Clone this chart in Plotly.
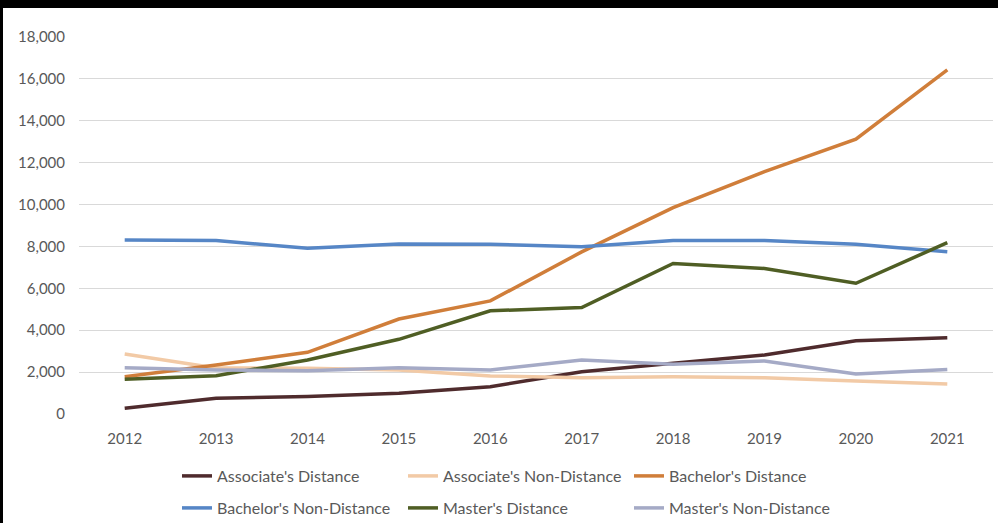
import plotly.graph_objects as go

years = ["2012", "2013", "2014", "2015", "2016", "2017", "2018", "2019", "2020", "2021"]

assoc_dist = [270, 750, 830, 990, 1300, 2020, 2420, 2820, 3500, 3645]
assoc_nondist = [2865, 2200, 2180, 2100, 1815, 1735, 1780, 1735, 1575, 1430]
bach_dist = [1780, 2340, 2945, 4535, 5400, 7740, 9850, 11570, 13120, 16430]
bach_nondist = [8310, 8280, 7910, 8120, 8100, 7990, 8280, 8280, 8100, 7750]
mast_dist = [1655, 1830, 2580, 3565, 4930, 5080, 7190, 6950, 6240, 8180]
mast_nondist = [2210, 2100, 2070, 2210, 2100, 2580, 2370, 2530, 1910, 2130]

series = [
    ("Associate's Distance", assoc_dist, "#4F2B2D", "legend"),
    ("Associate's Non-Distance", assoc_nondist, "#F2CAA6", "legend"),
    ("Bachelor's Distance", bach_dist, "#D07E3A", "legend"),
    ("Bachelor's Non-Distance", bach_nondist, "#5686C6", "legend2"),
    ("Master's Distance", mast_dist, "#4F5E24", "legend2"),
    ("Master's Non-Distance", mast_nondist, "#A5AAC6", "legend2"),
]

W, H = 998, 523
L, R, T, B = 79, 5, 37, 109
pw = W - L - R
ph = H - T - B

fig = go.Figure()
for name, vals, col, lg in series:
    fig.add_trace(go.Scatter(
        x=years, y=vals, name=name, mode="lines",
        line=dict(color=col, width=3.5),
        legend=lg,
    ))

tick_font = dict(family="Lato, 'Open Sans', sans-serif", size=15, color="#595959")
leg_font = dict(family="Lato, 'Open Sans', sans-serif", size=16, color="#595959")

def px_x(p):
    return (p - L) / pw

def px_y(p):
    return (H - B - p) / ph

fig.update_layout(
    width=W, height=H,
    margin=dict(l=L, r=R, t=T, b=B),
    paper_bgcolor="white", plot_bgcolor="white",
    font=tick_font,
    xaxis=dict(type="category", range=[-0.5, 9.5], showgrid=False,
               showline=False, zeroline=False, ticks="outside", ticklen=11,
               tickcolor="rgba(0,0,0,0)", tickfont=tick_font),
    yaxis=dict(range=[0, 18000], dtick=2000, tickformat=",d",
               showgrid=True, gridcolor="#D9D9D9", gridwidth=1.3,
               zeroline=False, showline=False, ticks="outside", ticklen=10,
               tickcolor="rgba(0,0,0,0)", tickfont=tick_font),
    showlegend=True,
    legend=dict(orientation="h", xref="container", yref="container",
                x=177 / W, y=1 - 476 / H, xanchor="left", yanchor="middle",
                entrywidth=181, entrywidthmode="pixels",
                font=leg_font, bgcolor="rgba(0,0,0,0)", itemclick=False),
    legend2=dict(orientation="h", xref="container", yref="container",
                 x=177 / W, y=1 - 508 / H, xanchor="left", yanchor="middle",
                 entrywidth=181, entrywidthmode="pixels",
                 font=leg_font, bgcolor="rgba(0,0,0,0)", itemclick=False),
    shapes=[
        dict(type="rect", xref="paper", yref="paper",
             x0=px_x(-10), x1=px_x(W + 10), y0=px_y(8), y1=px_y(-10),
             fillcolor="black", line=dict(width=0), layer="above"),
        dict(type="rect", xref="paper", yref="paper",
             x0=px_x(-10), x1=px_x(3), y0=px_y(H + 10), y1=px_y(-10),
             fillcolor="black", line=dict(width=0), layer="above"),
    ],
)

js = (
    "document.body.style.margin='0';"
    "document.body.style.overflow='hidden';"
)
fig.write_html("out.html", config={"displayModeBar": False}, post_script=js)
